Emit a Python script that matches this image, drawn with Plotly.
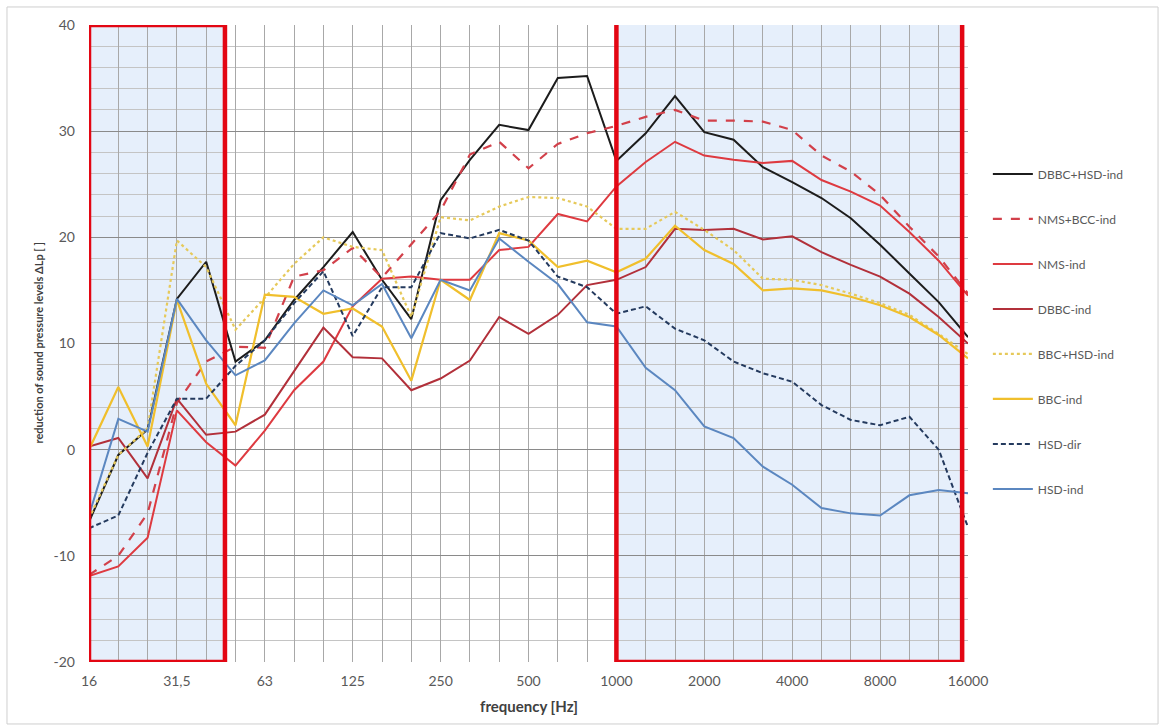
import plotly.graph_objects as go

bands = ["16", "20", "25", "31,5", "40", "50", "63", "80", "100", "125", "160", "200",
         "250", "315", "400", "500", "630", "800", "1000", "1250", "1600", "2000",
         "2500", "3150", "4000", "5000", "6300", "8000", "10000", "12500", "16000"]
tick_labels = ["16", "31,5", "63", "125", "250", "500", "1000", "2000", "4000", "8000", "16000"]

dbbc_hsd_ind = [-6.8, -0.5, 1.9, 14.2, 17.7, 8.3, 10.3, 14.1, 17.2, 20.5, 16.0, 12.3, 23.5, 27.3,
                30.6, 30.1, 35.0, 35.2, 27.2, 29.8, 33.3, 29.9, 29.2, 26.6, 25.2, 23.7, 21.8,
                19.3, 16.6, 13.9, 10.6]
nms_bcc_ind = [-11.8, -10.0, -6.0, 4.4, 8.3, 9.7, 9.6, 16.3, 16.9, 19.0, 16.2, 19.3, 22.5, 27.8,
               29.0, 26.5, 28.8, 29.8, 30.5, 31.35, 32.0, 31.0, 31.0, 30.9, 30.1, 27.7, 26.2,
               24.0, 21.0, 18.2, 14.7]
nms_ind = [-11.9, -11.0, -8.3, 3.7, 0.7, -1.5, 1.8, 5.6, 8.3, 13.5, 16.1, 16.3, 16.0, 16.0,
           18.8, 19.1, 22.2, 21.5, 24.8, 27.1, 29.0, 27.7, 27.3, 27.0, 27.2, 25.4, 24.3, 23.0,
           20.5, 17.8, 14.5]
dbbc_ind = [0.3, 1.1, -2.7, 4.8, 1.4, 1.7, 3.3, 7.4, 11.5, 8.7, 8.6, 5.6, 6.7, 8.4, 12.5, 10.9,
            12.7, 15.5, 16.0, 17.2, 20.8, 20.7, 20.8, 19.8, 20.1, 18.6, 17.4, 16.3, 14.7, 12.5,
            10.0]
bbc_hsd_ind = [-6.5, -0.5, 2.0, 19.7, 17.2, 11.3, 14.3, 17.5, 20.0, 19.1, 18.8, 12.5, 21.9,
               21.6, 22.9, 23.8, 23.7, 22.9, 20.8, 20.8, 22.4, 20.7, 18.8, 16.1, 16.0, 15.5,
               14.7, 13.8, 12.7, 10.9, 9.0]
bbc_ind = [0.0, 5.9, 0.3, 14.1, 6.2, 2.3, 14.6, 14.4, 12.8, 13.3, 11.6, 6.5, 16.0, 14.1, 20.4,
           19.7, 17.2, 17.8, 16.7, 18.0, 21.1, 18.8, 17.5, 15.0, 15.2, 15.0, 14.4, 13.6, 12.5,
           10.8, 8.6]
hsd_dir = [-7.4, -6.2, -0.3, 4.8, 4.8, 7.9, 10.3, 13.8, 16.8, 10.7, 15.3, 15.3, 20.4, 19.9,
           20.7, 19.7, 16.3, 15.3, 12.8, 13.5, 11.4, 10.3, 8.3, 7.2, 6.4, 4.2, 2.8, 2.3, 3.1,
           0.0, -7.3]
hsd_ind = [-6.2, 2.9, 1.7, 14.2, 10.3, 7.0, 8.4, 11.9, 15.0, 13.6, 15.6, 10.5, 16.0, 15.0,
           19.9, 17.7, 15.6, 12.0, 11.6, 7.7, 5.6, 2.2, 1.1, -1.6, -3.3, -5.5, -6.0, -6.2, -4.3,
           -3.8, -4.1]

series = [
    ("DBBC+HSD-ind", dbbc_hsd_ind, "#1c1c1c", "solid", 2.0),
    ("NMS+BCC-ind", nms_bcc_ind, "#d2404a", "dash", 2.2),
    ("NMS-ind", nms_ind, "#de3a40", "solid", 2.0),
    ("DBBC-ind", dbbc_ind, "#b2303a", "solid", 2.0),
    ("BBC+HSD-ind", bbc_hsd_ind, "#e6c95a", "dot", 2.2),
    ("BBC-ind", bbc_ind, "#f0bf2c", "solid", 2.2),
    ("HSD-dir", hsd_dir, "#243a5e", "5px,3px", 2.0),
    ("HSD-ind", hsd_ind, "#5b87c0", "solid", 2.0),
]

xidx = list(range(len(bands)))
fig = go.Figure()
for name, vals, color, dash, w in series:
    fig.add_trace(go.Scatter(x=xidx, y=vals, mode="lines", name=name, legendgroup=name,
                             line=dict(color=color, width=w, dash=dash)))

xtickvals = xidx
xticktext = [b if b in tick_labels else "" for b in bands]
yticks = list(range(-20, 41, 10))

font_family = "Lato, 'Open Sans', sans-serif"

fig.update_layout(
    width=1164, height=726,
    margin=dict(l=89, r=196, t=25, b=64),
    paper_bgcolor="white", plot_bgcolor="white",
    showlegend=True,
    legend=dict(x=1.0226, y=0.789, xanchor="left", yanchor="top",
                font=dict(family=font_family, size=12, color="#595959"),
                tracegroupgap=26, itemwidth=40, bgcolor="rgba(0,0,0,0)"),
    font=dict(family=font_family, size=14, color="#595959"),
)
fig.update_xaxes(range=[0, 30], tickvals=xtickvals, ticktext=xticktext, showgrid=True,
                 gridcolor="#a8a8a8", gridwidth=1, zeroline=False, showline=False, ticks="",
                 ticklabelstandoff=9, tickfont=dict(size=14, color="#595959"))
fig.update_yaxes(range=[-20, 40], tickvals=yticks, ticktext=[str(v) for v in yticks],
                 showgrid=True, gridcolor="#8a8a8a", gridwidth=1, zeroline=False,
                 showline=False, ticks="", ticklabelstandoff=13,
                 tickfont=dict(size=14, color="#595959"),
                 minor=dict(dtick=2, showgrid=True, gridcolor="#c4c4c4", gridwidth=1))

# highlighted frequency regions
regions = [(0.0, 4.64, -20, 40), (18.0, 29.8, -20, 40.3)]
for x0, x1, y0, y1 in regions:
    fig.add_shape(type="rect", xref="x", yref="y", x0=x0, x1=x1, y0=y0, y1=y1,
                  fillcolor="#e6effb", line=dict(width=0), layer="below")
    fig.add_shape(type="rect", xref="x", yref="y", x0=x0, x1=x1, y0=y0, y1=y1,
                  fillcolor="rgba(0,0,0,0)", line=dict(color="#e30613", width=4.5), layer="above")

# outer chart border
fig.add_shape(type="rect", xref="paper", yref="paper", x0=-0.0933, x1=1.2162, y0=-0.0973,
              y1=1.0283, line=dict(color="#cfcfcf", width=1), fillcolor="rgba(0,0,0,0)")

fig.add_annotation(text="<b>frequency [Hz]</b>", xref="paper", yref="paper", x=0.5, y=-0.069,
                   showarrow=False, font=dict(family=font_family, size=15, color="#404040"),
                   yanchor="middle")
fig.add_annotation(text="<b>reduction of sound pressure levels ΔLp [ ]</b>", xref="paper",
                   yref="paper", x=-0.058, y=0.5, textangle=-90, showarrow=False,
                   font=dict(family=font_family, size=11, color="#404040"), xanchor="center")

fig.write_html("out.html")
